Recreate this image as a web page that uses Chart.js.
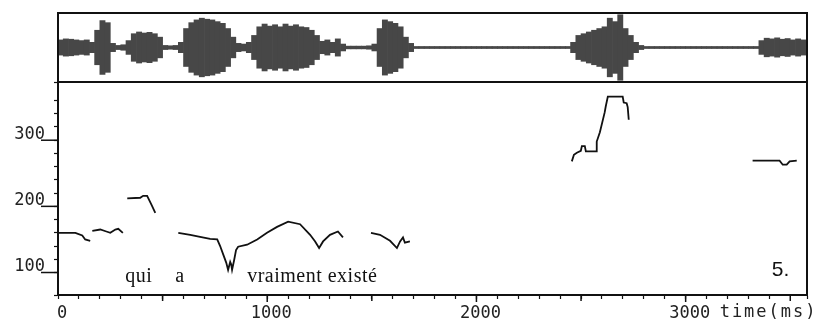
<!DOCTYPE html>
<html>
<head>
<meta charset="utf-8">
<script src="https://cdn.jsdelivr.net/npm/chart.js@4.4.1/dist/chart.umd.min.js"></script>
<style>
  html, body { margin: 0; padding: 0; background: #fff; }
  #wrap { position: relative; width: 827px; height: 323px; }
  #pitchBox { position: absolute; left: 0; top: 0; width: 827px; height: 323px; }
  #waveBox { position: absolute; left: 0; top: 0; width: 827px; height: 84px; }
</style>
</head>
<body>
<div id="wrap">
  <div id="pitchBox"><canvas id="pitchCanvas"></canvas></div>
  <div id="waveBox"><canvas id="waveCanvas"></canvas></div>
</div>
<script>
// ------- Axis ranges -------
const T_MAX = 3580;          // ms
const F_MIN = 66, F_MAX = 388; // Hz

// ------- Pitch contour (time in ms, F0 in Hz), one pair per voiced stretch -------
const seg1Time = [0, 83, 116, 130, 154];
const seg1Hz   = [160, 160, 156, 150, 148];

const seg2Time = [164, 202, 231, 250, 274, 288, 310];
const seg2Hz   = [163, 165, 162, 160, 165, 166, 160];

const seg3Time = [331, 393, 407, 426, 446, 465];
const seg3Hz   = [212, 213, 216, 216, 203, 190];

const seg4Time = [575, 632, 679, 727, 761, 775, 790, 804, 813, 823, 828, 832, 842, 851, 861,
                  904, 952, 999, 1047, 1100, 1157, 1205, 1229, 1248, 1267, 1300, 1338, 1362];
const seg4Hz   = [160, 157, 154, 151, 150, 140, 127, 115, 104, 116, 112, 104, 119, 134, 139,
                  142, 150, 160, 169, 177, 173, 157, 147, 137, 147, 157, 162, 153];

const seg5Time = [1496, 1539, 1587, 1620, 1635, 1649, 1658, 1682];
const seg5Hz   = [160, 157, 148, 137, 147, 153, 145, 147];

const seg6Time = [2456, 2466, 2480, 2499, 2504, 2518, 2523, 2575, 2575, 2590, 2613, 2618, 2628,
                  2699, 2704, 2718, 2723, 2728];
const seg6Hz   = [268, 278, 281, 284, 291, 291, 283, 283, 298, 312, 342, 351, 366,
                  366, 357, 356, 350, 331];

const seg7Time = [3320, 3449, 3464, 3483, 3497, 3531];
const seg7Hz   = [269, 269, 263, 263, 268, 269];

// ------- Waveform envelope (relative amplitude per 25 ms bin) -------
const WAVE_BIN = 25;
const waveAmp = [
  0.22, 0.25, 0.24, 0.22, 0.20, 0.22, 0.15, 0.50, 0.78, 0.72,
  0.12, 0.06, 0.08, 0.20, 0.40, 0.45, 0.42, 0.44, 0.40, 0.30,
  0.06, 0.05, 0.06, 0.15, 0.55, 0.72, 0.80, 0.85, 0.82, 0.80,
  0.75, 0.70, 0.55, 0.30, 0.12, 0.10, 0.15, 0.35, 0.60, 0.68,
  0.62, 0.66, 0.60, 0.68, 0.62, 0.66, 0.60, 0.58, 0.50, 0.35,
  0.18, 0.22, 0.15, 0.25, 0.10, 0.04, 0.04, 0.04, 0.04, 0.05,
  0.10, 0.55, 0.80, 0.75, 0.70, 0.60, 0.30, 0.12, 0.03, 0.03,
  0.03, 0.03, 0.03, 0.03, 0.03, 0.03, 0.03, 0.03, 0.03, 0.03,
  0.03, 0.03, 0.03, 0.03, 0.03, 0.03, 0.03, 0.03, 0.03, 0.03,
  0.03, 0.03, 0.03, 0.03, 0.03, 0.03, 0.03, 0.03, 0.15, 0.35,
  0.40, 0.45, 0.50, 0.55, 0.60, 0.85, 0.75, 0.95, 0.55, 0.35,
  0.15, 0.06, 0.03, 0.03, 0.03, 0.03, 0.03, 0.03, 0.03, 0.03,
  0.03, 0.03, 0.03, 0.03, 0.03, 0.03, 0.03, 0.03, 0.03, 0.03,
  0.03, 0.03, 0.03, 0.03, 0.20, 0.27, 0.25, 0.28, 0.24, 0.26,
  0.22, 0.25, 0.22, 0.20
];

// ------- Annotations -------
const wordLabels = ["qui", "a", "vraiment existé"];
const wordTimes  = [321, 560, 904];
const WORD_HZ = 86;          // baseline of the transcription line
const figLabel = "5.";
const figTime = 3412, figHz = 95;

const MONO = "'DejaVu Sans Mono', monospace";
const INK = "#111";

// ------- Helpers -------
function segment(times, hz) {
  return {
    data: times.map((t, i) => ({ x: t, y: hz[i] })),
    showLine: true,
    borderColor: INK,
    borderWidth: 1.8,
    pointRadius: 0,
    tension: 0,
  };
}

const framePlugin = {
  id: "frame",
  afterDraw(chart) {
    const { ctx, chartArea: a } = chart;
    ctx.save();
    ctx.strokeStyle = INK;
    ctx.lineWidth = 2;
    ctx.strokeRect(a.left, a.top, a.right - a.left, a.bottom - a.top);
    ctx.restore();
  },
};

const pitchExtras = {
  id: "pitchExtras",
  afterDraw(chart) {
    const { ctx, chartArea: a, scales } = chart;
    const xs = scales.x, ys = scales.y;
    ctx.save();
    ctx.strokeStyle = INK;
    ctx.lineWidth = 1.5;
    // long ticks under the Hz labels
    [100, 200, 300].forEach((v) => {
      const y = ys.getPixelForValue(v);
      ctx.beginPath();
      ctx.moveTo(a.left - 17, y);
      ctx.lineTo(a.left, y);
      ctx.stroke();
    });
    // longer ticks every 500 ms
    for (let t = 500; t < T_MAX; t += 500) {
      const x = xs.getPixelForValue(t);
      ctx.beginPath();
      ctx.moveTo(x, a.bottom);
      ctx.lineTo(x, a.bottom + (t % 1000 === 0 ? 7 : 6));
      ctx.stroke();
    }
    // transcription
    ctx.fillStyle = INK;
    ctx.font = "20px 'Liberation Serif', serif";
    ctx.letterSpacing = "0.5px";
    ctx.textBaseline = "alphabetic";
    ctx.textAlign = "left";
    wordLabels.forEach((w, i) => {
      ctx.fillText(w, xs.getPixelForValue(wordTimes[i]), ys.getPixelForValue(WORD_HZ));
    });
    // figure number
    ctx.letterSpacing = "0px";
    ctx.font = "21px 'Liberation Sans', sans-serif";
    ctx.fillText(figLabel, xs.getPixelForValue(figTime), ys.getPixelForValue(figHz));
    // axis unit after the last label
    ctx.font = "17px " + MONO;
    ctx.letterSpacing = "2px";
    ctx.fillStyle = "#222";
    ctx.textBaseline = "middle";
    ctx.fillText("time(ms)", xs.getPixelForValue(3000) + 34, a.bottom + 18);
    ctx.restore();
  },
};

// ------- Pitch chart -------
new Chart(document.getElementById("pitchCanvas"), {
  type: "scatter",
  data: {
    datasets: [
      segment(seg1Time, seg1Hz),
      segment(seg2Time, seg2Hz),
      segment(seg3Time, seg3Hz),
      segment(seg4Time, seg4Hz),
      segment(seg5Time, seg5Hz),
      segment(seg6Time, seg6Hz),
      segment(seg7Time, seg7Hz),
    ],
  },
  options: {
    responsive: true,
    maintainAspectRatio: false,
    animation: false,
    layout: { padding: { top: 82, right: 20, left: 0, bottom: 0 } },
    plugins: { legend: { display: false }, tooltip: { enabled: false } },
    scales: {
      x: {
        type: "linear",
        min: 0,
        max: T_MAX,
        afterFit: (s) => { s.height = 28; },
        border: { color: INK, width: 2 },
        grid: { drawOnChartArea: false, tickLength: 4, tickColor: INK, tickWidth: 1.2 },
        ticks: {
          stepSize: 100,
          autoSkip: false,
          maxRotation: 0,
          labelOffset: 4,
          padding: 4,
          color: "#222",
          font: { family: MONO, size: 17 },
          callback: (v) => (v % 1000 === 0 ? String(v) : ""),
        },
      },
      y: {
        min: F_MIN,
        max: F_MAX,
        afterFit: (s) => { s.width = 58; },
        border: { color: INK, width: 2 },
        grid: { drawOnChartArea: false, tickLength: 4, tickColor: INK, tickWidth: 1.2 },
        ticks: {
          stepSize: 20,
          autoSkip: false,
          labelOffset: -6,
          padding: 9,
          color: "#222",
          font: { family: MONO, size: 17 },
          callback: (v) => (v % 100 === 0 ? String(v) : ""),
        },
      },
    },
  },
  plugins: [framePlugin, pitchExtras],
});

// ------- Waveform chart -------
new Chart(document.getElementById("waveCanvas"), {
  type: "bar",
  data: {
    datasets: [
      {
        data: waveAmp.map((a, i) => ({ x: i * WAVE_BIN + WAVE_BIN / 2, y: [-a, a] })),
        backgroundColor: "#474747",
        borderWidth: 0,
        barPercentage: 1,
        categoryPercentage: 1,
      },
    ],
  },
  options: {
    responsive: true,
    maintainAspectRatio: false,
    animation: false,
    layout: { padding: { top: 13, right: 20, left: 58, bottom: 2 } },
    plugins: { legend: { display: false }, tooltip: { enabled: false } },
    scales: {
      x: { type: "linear", min: 0, max: T_MAX, offset: false, display: false },
      y: { min: -1, max: 1, display: false },
    },
  },
  plugins: [framePlugin],
});
</script>
</body>
</html>
